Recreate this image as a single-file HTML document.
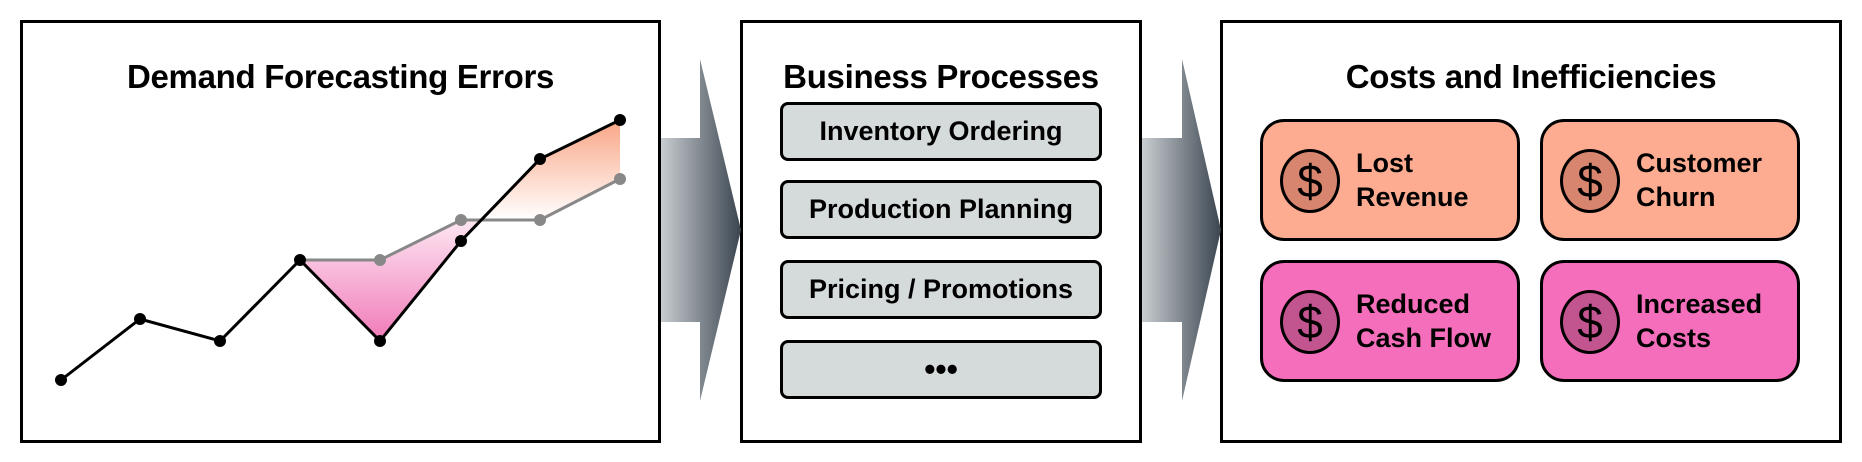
<!DOCTYPE html>
<html><head><meta charset="utf-8"><style>
body{margin:0;width:1862px;height:462px;background:#fff;overflow:hidden;position:relative;font-family:"Liberation Sans",sans-serif;font-weight:bold;color:#000}
.panel{position:absolute;border:3px solid #000;box-sizing:border-box;background:#fff}
.title{position:absolute;left:0;right:0;text-align:center;font-size:33px;top:35px;letter-spacing:-0.3px}
.bp{position:absolute;left:780px;width:322px;height:59px;background:#d5dbdb;border:3.5px solid #000;border-radius:8px;box-sizing:border-box;text-align:center;line-height:52px;font-size:27px}
.cb{position:absolute;width:260px;height:122px;border:3.5px solid #000;border-radius:24px;box-sizing:border-box}
.coin{position:absolute;left:17px;top:27px;width:60px;height:64px;border:3px solid #000;border-radius:50%;box-sizing:border-box;text-align:center;font-weight:normal;font-size:46px;line-height:58px}
.ct{position:absolute;left:93px;top:24px;font-size:27px;line-height:34px}
</style></head><body>
<div class="panel" style="left:20px;top:20px;width:641px;height:423px"><div class="title">Demand Forecasting Errors</div></div>
<div class="panel" style="left:740px;top:20px;width:402px;height:423px"><div class="title">Business Processes</div></div>
<div class="panel" style="left:1220px;top:20px;width:622px;height:423px"><div class="title">Costs and Inefficiencies</div></div>

<svg width="1862" height="462" style="position:absolute;left:0;top:0">
<defs>
<linearGradient id="ag" x1="0" x2="1" y1="0" y2="0"><stop offset="0" stop-color="#c8cdd0"/><stop offset="1" stop-color="#3b4550"/></linearGradient>
<linearGradient id="pk" x1="0" x2="0" y1="0" y2="1"><stop offset="0" stop-color="#fde6f2"/><stop offset="1" stop-color="#f07ab8"/></linearGradient>
<linearGradient id="og" x1="0" x2="0" y1="0" y2="1"><stop offset="0" stop-color="#f9a585"/><stop offset="1" stop-color="#fff"/></linearGradient>
</defs>
<polygon points="661,138 700,138 700,59 741,230 700,401 700,322 661,322" fill="url(#ag)"/>
<polygon points="1142,138 1182,138 1182,59 1221,230 1182,401 1182,322 1142,322" fill="url(#ag)"/>
<polygon points="300,260 380,260 461,220 481,220 461,241 380,341" fill="url(#pk)"/>
<polygon points="481,220 540,220 620,179 620,120 540,159" fill="url(#og)"/>
<polyline points="300,260 380,260 461,220 540,220 620,179" fill="none" stroke="#888" stroke-width="3"/>
<g fill="#888"><circle cx="380" cy="260" r="6"/><circle cx="461" cy="220" r="6"/><circle cx="540" cy="220" r="6"/><circle cx="620" cy="179" r="6"/></g>
<polyline points="61,380 140,319 220,341 300,260 380,341 461,241 540,159 620,120" fill="none" stroke="#000" stroke-width="3"/>
<g fill="#000"><circle cx="61" cy="380" r="6"/><circle cx="140" cy="319" r="6"/><circle cx="220" cy="341" r="6"/><circle cx="300" cy="260" r="6"/><circle cx="380" cy="341" r="6"/><circle cx="461" cy="241" r="6"/><circle cx="540" cy="159" r="6"/><circle cx="620" cy="120" r="6"/></g>
</svg>

<div class="bp" style="top:102px">Inventory Ordering</div>
<div class="bp" style="top:180px">Production Planning</div>
<div class="bp" style="top:260px">Pricing / Promotions</div>
<div class="bp" style="top:340px;font-size:32px">•••</div>

<div class="cb" style="left:1260px;top:119px;background:#fdac92"><div class="coin" style="background:#d88570">$</div><div class="ct">Lost<br>Revenue</div></div>
<div class="cb" style="left:1540px;top:119px;background:#fdac92"><div class="coin" style="background:#d88570">$</div><div class="ct">Customer<br>Churn</div></div>
<div class="cb" style="left:1260px;top:260px;background:#f46ebb"><div class="coin" style="background:#c2548f">$</div><div class="ct">Reduced<br>Cash Flow</div></div>
<div class="cb" style="left:1540px;top:260px;background:#f46ebb"><div class="coin" style="background:#c2548f">$</div><div class="ct">Increased<br>Costs</div></div>
</body></html>
